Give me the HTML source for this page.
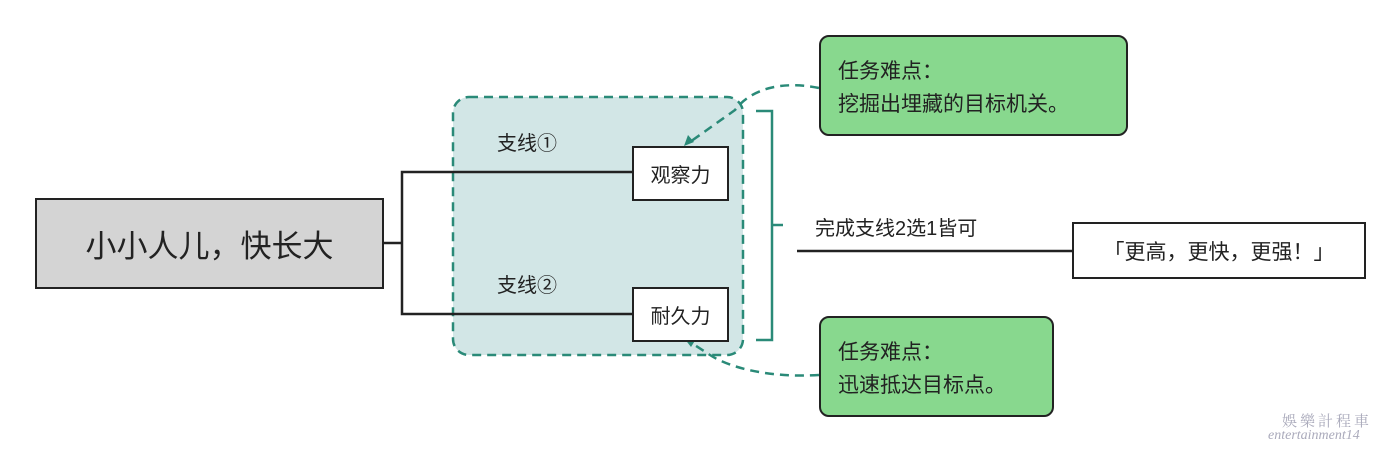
<!DOCTYPE html>
<html><head><meta charset="utf-8"><style>
body{margin:0;background:#fff;width:1400px;height:451px;overflow:hidden;position:relative;font-family:"Liberation Sans","Noto Sans CJK SC",sans-serif;color:#222}
.a{position:absolute;box-sizing:border-box}
</style></head><body>
<svg class="a" style="left:0;top:0" width="1400" height="451">
<rect x="453" y="97" width="290" height="258" rx="16" fill="#d2e6e6" stroke="#2a8a78" stroke-width="2.5" stroke-dasharray="9,6"/>
<polyline points="383,243 402,243" stroke="#222" stroke-width="2.5" fill="none"/>
<polyline points="632,172 402,172 402,314 632,314" stroke="#222" stroke-width="2.5" fill="none"/>
<polyline points="756,111 772,111 772,340 756,340" stroke="#2a8a78" stroke-width="2.5" fill="none"/>
<line x1="772" y1="225" x2="783" y2="225" stroke="#2a8a78" stroke-width="2.5"/>
<line x1="797" y1="251" x2="1072" y2="251" stroke="#222" stroke-width="2.5"/>
<path d="M819,88 C780,80 750,90 735,110 L690,142" stroke="#2a8a78" stroke-width="2.5" fill="none" stroke-dasharray="9,6"/>
<path d="M684,146 l4,-11 l6,7 z" fill="#2a8a78"/>
<path d="M819,375 C770,378 730,368 710,355 L690,342" stroke="#2a8a78" stroke-width="2.5" fill="none" stroke-dasharray="9,6"/>
<path d="M684,338 l12,1 l-5,8 z" fill="#2a8a78"/>
</svg>
<div class="a" style="left:35px;top:198px;width:349px;height:91px;background:#d4d4d4;border:2.5px solid #222;font-size:31px;display:flex;align-items:center;justify-content:center">小小人儿，快长大</div>
<div class="a" style="left:497px;top:127px;font-size:20px">支线①</div>
<div class="a" style="left:497px;top:269px;font-size:20px">支线②</div>
<div class="a" style="left:632px;top:146px;width:97px;height:55px;background:#fff;border:2.5px solid #222;font-size:20px;display:flex;align-items:center;justify-content:center">观察力</div>
<div class="a" style="left:632px;top:287px;width:97px;height:55px;background:#fff;border:2.5px solid #222;font-size:20px;display:flex;align-items:center;justify-content:center">耐久力</div>
<div class="a" style="left:815px;top:212px;font-size:20px">完成支线2选1皆可</div>
<div class="a" style="left:1072px;top:222px;width:294px;height:57px;background:#fff;border:2.5px solid #222;font-size:21px;display:flex;align-items:center;justify-content:center">「更高，更快，更强！」</div>
<div class="a" style="left:819px;top:35px;width:309px;height:101px;background:#88d88e;border:2.5px solid #222;border-radius:10px;font-size:21px;line-height:33px;padding:18px 0 0 17px">任务难点：<br>挖掘出埋藏的目标机关。</div>
<div class="a" style="left:819px;top:316px;width:235px;height:101px;background:#88d88e;border:2.5px solid #222;border-radius:10px;font-size:21px;line-height:33px;padding:18px 0 0 17px">任务难点：<br>迅速抵达目标点。</div>
<div class="a" style="left:1282px;top:410px;font-size:15px;color:#aab;font-family:'Liberation Serif','Noto Serif CJK SC',serif;letter-spacing:3px">娛樂計程車</div>
<div class="a" style="left:1268px;top:428px;font-size:14px;color:#aab;font-style:italic;font-family:'Liberation Serif',serif">entertainment14</div>
</body></html>
